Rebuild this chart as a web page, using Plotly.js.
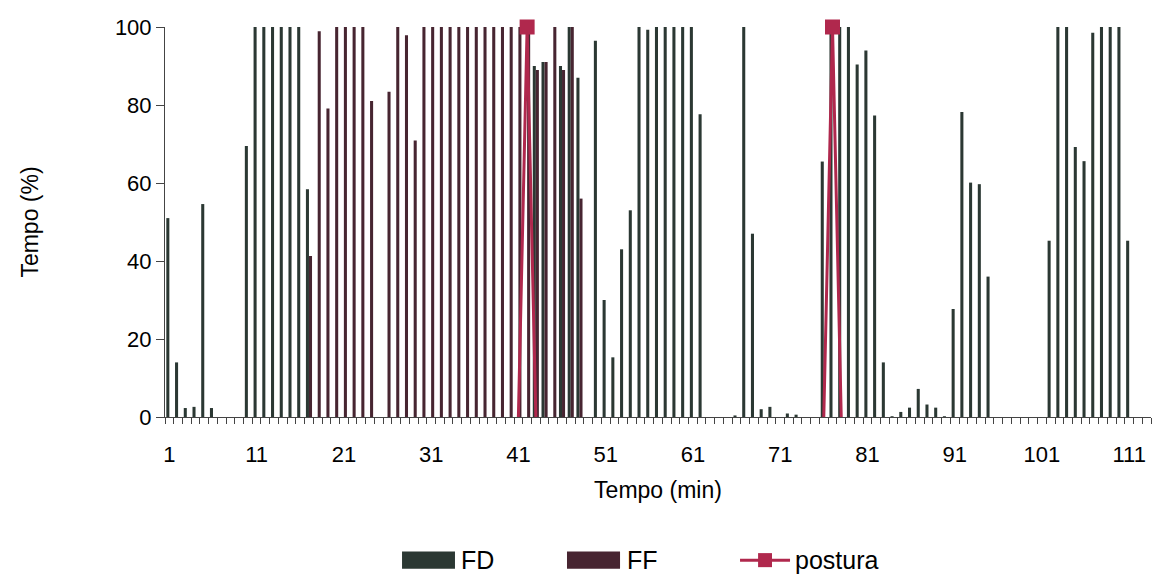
<!DOCTYPE html>
<html><head><meta charset="utf-8">
<script src="https://cdn.plot.ly/plotly-3.0.1.min.js"></script>
<style>html,body{margin:0;padding:0;background:#fff}</style>
</head><body><div id="chart" style="width:1152px;height:574px"></div>
<script>
const minutes = [
  1,2,3,4,5,6,7,8,9,10, 11,12,13,14,15,16,17,18,19,20,
  21,22,23,24,25,26,27,28,29,30, 31,32,33,34,35,36,37,38,39,40,
  41,42,43,44,45,46,47,48,49,50, 51,52,53,54,55,56,57,58,59,60,
  61,62,63,64,65,66,67,68,69,70, 71,72,73,74,75,76,77,78,79,80,
  81,82,83,84,85,86,87,88,89,90, 91,92,93,94,95,96,97,98,99,100,
  101,102,103,104,105,106,107,108,109,110, 111,112,113
];
const FD = [
  51, 14, 2.3, 2.6, 54.6, 2.3, 0, 0, 0, 69.5,
  100, 100, 100, 100, 100, 100, 58.4, 0, 0, 0,
  0, 0, 0, 0, 0, 0, 0, 0, 0, 0,
  0, 0, 0, 0, 0, 0, 0, 0, 0, 0,
  0, 0, 90, 91, 0, 90, 100, 87, 0, 96.5,
  30, 15.3, 43, 53, 100, 99.3, 100, 100, 100, 100,
  100, 77.6, 0, 0, 0, 0.4, 100, 47, 2, 2.6,
  0, 0.9, 0.6, 0, 0, 65.5, 100, 100, 100, 90.4,
  94, 77.3, 14, 0.2, 1.3, 2.4, 7.2, 3.2, 2.4, 0.2,
  27.7, 78.2, 60.1, 59.7, 36, 0, 0, 0, 0, 0,
  0, 45.2, 100, 100, 69.2, 65.6, 98.5, 100, 100, 100,
  45.2, 0, 0
];
const FF = [
  0, 0, 0, 0, 0, 0, 0, 0, 0, 0,
  0, 0, 0, 0, 0, 0, 41.3, 98.9, 79.1, 100,
  100, 100, 100, 81, 0, 83.4, 100, 97.9, 70.9, 100,
  100, 100, 100, 100, 100, 100, 100, 100, 100, 100,
  100, 100, 89, 91, 100, 89, 100, 56, 0, 0,
  0, 0, 0, 0, 0, 0, 0, 0, 0, 0,
  0, 0, 0, 0, 0, 0, 0, 0, 0, 0,
  0, 0, 0, 0, 0, 0, 0, 0, 0, 0,
  0, 0, 0, 0, 0, 0, 0, 0, 0, 0,
  0, 0, 0, 0, 0, 0, 0, 0, 0, 0,
  0, 0, 0, 0, 0, 0, 0, 0, 0, 0,
  0, 0, 0
];
const postura = [
  null,null,null,null,null,null,null,null,null,null,
  null,null,null,null,null,null,null,null,null,null,
  null,null,null,null,null,null,null,null,null,null,
  null,null,null,null,null,null,null,null,null,null,
  0, 100, 0, null,null,null,null,null,null,null,
  null,null,null,null,null,null,null,null,null,null,
  null,null,null,null,null,null,null,null,null,null,
  null,null,null,null,null, 0, 100, 0, null,null,
  null,null,null,null,null,null,null,null,null,null,
  null,null,null,null,null,null,null,null,null,null,
  null,null,null,null,null,null,null,null,null,null,
  null,null,null
];
const seriesNames = ['FD', 'FF', 'postura'];
const posturaPeaks = postura.map(v => (v !== null && v > 0) ? v : null);

const colFD = '#2b3833', colFF = '#472531', colP = '#b0284d';
const traces = [
  {type:'bar', name:seriesNames[0], x:minutes, y:FD, marker:{color:colFD}, hoverinfo:'x+y'},
  {type:'bar', name:seriesNames[1], x:minutes, y:FF, marker:{color:colFF}, hoverinfo:'x+y'},
  {type:'scatter', mode:'lines', x:minutes, y:postura, line:{color:colP, width:3},
   showlegend:false, hoverinfo:'skip', cliponaxis:false, connectgaps:false},
  {type:'scatter', mode:'markers', name:seriesNames[2], x:minutes, y:posturaPeaks,
   marker:{symbol:'square', size:15, color:colP}, cliponaxis:false}
];

// legend drawn in paper coordinates (wide swatches like the original)
const ly = -0.367;
const legendShapes = [
  {type:'rect', xref:'paper', yref:'paper', x0:0.2404, x1:0.2941, y0:ly-0.022, y1:ly+0.022, fillcolor:colFD, line:{width:0}},
  {type:'rect', xref:'paper', yref:'paper', x0:0.4077, x1:0.4615, y0:ly-0.022, y1:ly+0.022, fillcolor:colFF, line:{width:0}},
  {type:'line', xref:'paper', yref:'paper', x0:0.5832, x1:0.6339, y0:ly, y1:ly, line:{color:colP, width:3}},
  {type:'rect', xref:'paper', yref:'paper', x0:0.6015, x1:0.6156, y0:ly-0.018, y1:ly+0.018, fillcolor:colP, line:{width:0}}
];
const legendTexts = [
  {xref:'paper', yref:'paper', x:0.2982, y:ly, xanchor:'left', yanchor:'middle', text:seriesNames[0], showarrow:false, font:{size:25}},
  {xref:'paper', yref:'paper', x:0.4665, y:ly, xanchor:'left', yanchor:'middle', text:seriesNames[1], showarrow:false, font:{size:25}},
  {xref:'paper', yref:'paper', x:0.6369, y:ly, xanchor:'left', yanchor:'middle', text:seriesNames[2], showarrow:false, font:{size:25}}
];

const layout = {
  width:1152, height:574,
  margin:{l:165, r:1, t:27, b:157},
  paper_bgcolor:'#fff', plot_bgcolor:'#fff',
  barmode:'group', bargap:0.3, bargroupgap:0,
  font:{family:'"Liberation Sans", Arial, sans-serif', size:22, color:'#000'},
  showlegend:false,
  xaxis:{
    range:[0.5,113.5], tickmode:'linear', tick0:1, dtick:10,
    ticks:'outside', ticklen:0, tickcolor:'#444', ticklabelstandoff:18,
    minor:{tick0:0.5, dtick:1, ticks:'outside', ticklen:6, tickcolor:'#444', showgrid:false},
    showline:true, linecolor:'#444', linewidth:1, showgrid:false, zeroline:false,
    automargin:false,
    title:{text:'Tempo (min)', font:{size:23}, standoff:15}
  },
  yaxis:{
    range:[0,100], tickmode:'linear', tick0:0, dtick:20,
    ticks:'outside', ticklen:8, tickcolor:'#444',
    showline:true, linecolor:'#444', linewidth:1, showgrid:false, zeroline:false,
    automargin:false,
    title:{text:'Tempo (%)', font:{size:23}, standoff:69}
  },
  shapes: legendShapes,
  annotations: legendTexts
};
Plotly.newPlot('chart', traces, layout, {displayModeBar:false, staticPlot:true});
</script>
</body></html>
